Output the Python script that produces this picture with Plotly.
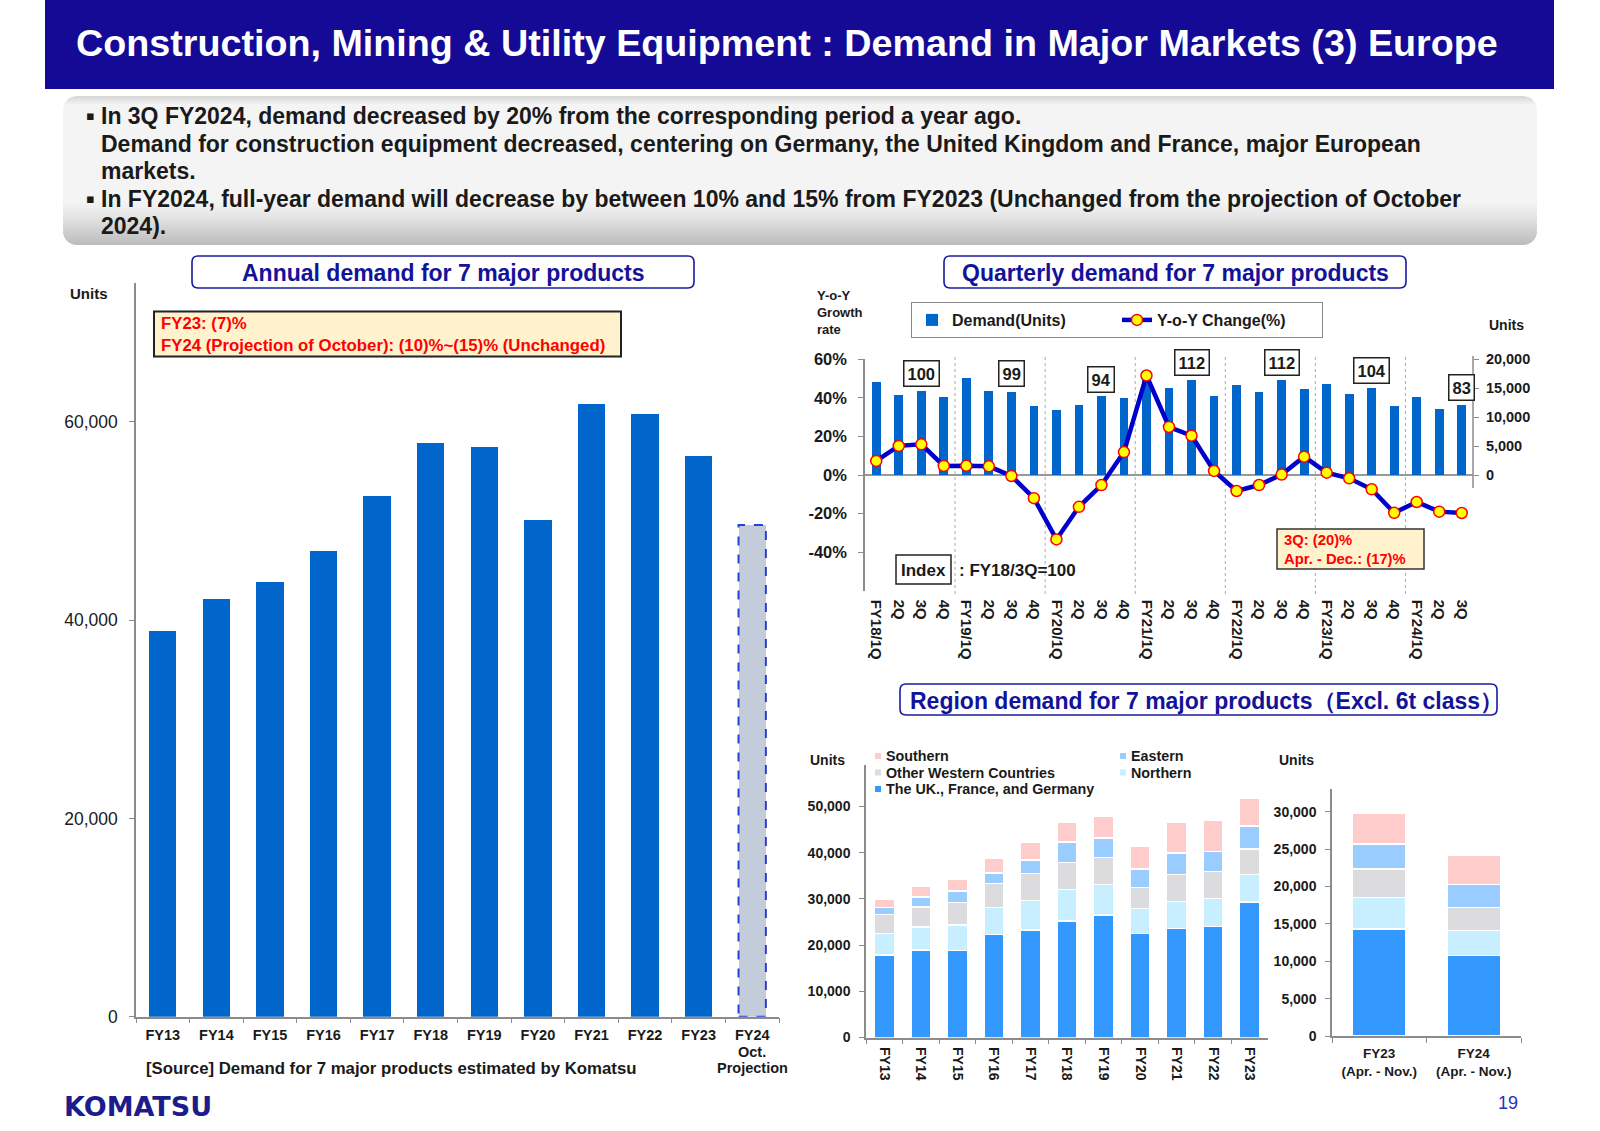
import math
import plotly.graph_objects as go

W, H = 1600, 1131
FONT = "Arial, Liberation Sans, sans-serif"
DARK = "#1a1a1a"
AXIS = "#8c8c8c"
NAVY = "#12129a"

# ---------------- data ----------------
annual_years = ["FY13", "FY14", "FY15", "FY16", "FY17", "FY18", "FY19", "FY20",
                "FY21", "FY22", "FY23", "FY24"]
annual_ticktext = ["FY13", "FY14", "FY15", "FY16", "FY17", "FY18", "FY19", "FY20",
                   "FY21", "FY22", "FY23", "FY24"]
annual_demand = [38900, 42100, 43800, 47000, 52500, 57900, 57500, 50100,
                 61800, 60800, 56600, 49600]
projection_note = ["Oct.", "Projection"]

quarter_labels = ["FY18/1Q", "2Q", "3Q", "4Q", "FY19/1Q", "2Q", "3Q", "4Q",
                  "FY20/1Q", "2Q", "3Q", "4Q", "FY21/1Q", "2Q", "3Q", "4Q",
                  "FY22/1Q", "2Q", "3Q", "4Q", "FY23/1Q", "2Q", "3Q", "4Q",
                  "FY24/1Q", "2Q", "3Q"]
quarterly_demand = [16050, 13830, 14530, 13480, 16800, 14470, 14350, 11850,
                    11200, 12080, 13600, 13250, 16950, 15100, 16400, 13600,
                    15520, 14300, 16400, 14820, 15700, 14050, 15100, 11850,
                    13530, 11380, 12080]
yoy_change = [7.3, 15.1, 15.9, 4.7, 4.8, 4.5, -0.5, -12.0,
              -33.4, -16.5, -5.2, 11.9, 51.6, 24.9, 20.4, 2.1,
              -8.3, -5.2, 0.2, 9.5, 1.2, -1.7, -7.4, -19.6,
              -14.0, -19.0, -19.7]
index_values = [100, 99, 94, 112, 112, 104, 83]        # 3Q index, FY18/3Q = 100
index_quarter = [2, 6, 10, 14, 18, 22, 26]             # position of each year's 3Q

region_years = ["FY13", "FY14", "FY15", "FY16", "FY17", "FY18", "FY19", "FY20",
                "FY21", "FY22", "FY23"]
uk_fr_de = [17860, 19000, 18870, 22340, 23330, 25220, 26520, 22550, 23550, 23980, 29390]
northern = [4690, 4910, 5480, 5760, 6280, 6860, 6640, 5410, 5930, 6150, 5930]
other_western = [4110, 4390, 4910, 5280, 5930, 5840, 5840, 4550, 5840, 5760, 5540]
eastern = [1520, 2160, 2510, 2290, 2880, 4460, 4240, 3960, 4610, 4420, 4910]
southern = [1860, 2380, 2600, 3180, 3830, 4330, 4630, 4980, 6780, 6780, 6130]

ytd_periods = ["FY23<br>(Apr. - Nov.)", "FY24<br>(Apr. - Nov.)"]
ytd_uk_fr_de = [14300, 10790]
ytd_northern = [4240, 3340]
ytd_other_western = [3780, 3075]
ytd_eastern = [3340, 3075]
ytd_southern = [4150, 3920]

# ---------------- layout helpers (pixel -> paper) ----------------
def X(px):
    return px / W


def Y(py):
    return 1 - py / H


# label positions (layout only, in % of the growth axis)
index_label_y = [52.7, 52.4, 49.6, 58.2, 58.2, 54.4, 45.4]


def rounded_path(x0, y0, x1, y1, r):
    def P(x, y):
        return f"{X(x):.5f},{Y(y):.5f}"
    return (f"M{P(x0 + r, y0)} L{P(x1 - r, y0)} Q{P(x1, y0)} {P(x1, y0 + r)} "
            f"L{P(x1, y1 - r)} Q{P(x1, y1)} {P(x1 - r, y1)} L{P(x0 + r, y1)} "
            f"Q{P(x0, y1)} {P(x0, y1 - r)} L{P(x0, y0 + r)} Q{P(x0, y0)} {P(x0 + r, y0)} Z")


def band_path(x0, y0, x1, y1, r, ya, yb):
    def xl(y):
        if y < y0 + r:
            d = y0 + r - y
        elif y > y1 - r:
            d = y - (y1 - r)
        else:
            return x0
        return x0 + r - math.sqrt(max(r * r - d * d, 0))
    ys = [ya] + [v for v in range(math.ceil(ya), math.floor(yb) + 1) if ya < v < yb] + [yb]
    pts = [(xl(y), y) for y in ys] + [(x0 + x1 - xl(y), y) for y in reversed(ys)]
    return "M" + " L".join(f"{X(x):.5f},{Y(y):.5f}" for x, y in pts) + " Z"


def gray_level(t):
    if t < 0.06:
        return 214 + (244 - 214) * (t / 0.06)
    if t < 0.70:
        return 244
    return 244 - (244 - 186) * ((t - 0.70) / 0.30) ** 1.3


def ann(text, px, py, size, bold=True, color=DARK, xanchor="center", yanchor="middle",
        family=FONT, **kw):
    f = dict(family=family, size=size, color=color)
    if bold:
        f["weight"] = "bold"
    return dict(text=text, xref="paper", yref="paper", x=X(px), y=Y(py), xanchor=xanchor,
                yanchor=yanchor, showarrow=False, font=f, **kw)


fig = go.Figure()

# ---------------- annual chart ----------------
fig.add_trace(go.Bar(
    x=annual_years[:-1], y=annual_demand[:-1], width=0.51,
    marker=dict(color="#0066cc", line=dict(width=0)),
    xaxis="x", yaxis="y", showlegend=False, hoverinfo="x+y"))
fig.add_trace(go.Bar(
    x=annual_years[-1:], y=annual_demand[-1:], width=0.51,
    marker=dict(color="#c3ccda", line=dict(width=0)),
    xaxis="x", yaxis="y", showlegend=False, hoverinfo="x+y"))

# ---------------- quarterly chart ----------------
qx = list(range(len(quarter_labels)))
fig.add_trace(go.Bar(
    x=qx, y=quarterly_demand, width=0.39, name="Demand(Units)",
    marker=dict(color="#0066cc", line=dict(width=0)),
    xaxis="x2", yaxis="y2", legend="legend"))
fig.add_trace(go.Scatter(
    x=qx, y=yoy_change, name="Y-o-Y Change(%)", mode="lines+markers",
    line=dict(color="#0000cc", width=4.5),
    marker=dict(size=11, color="#ffff00", line=dict(color="#ff0000", width=1.5)),
    xaxis="x2", yaxis="y3", legend="legend"))

# ---------------- region chart ----------------
regions = [
    ("The UK., France, and Germany", uk_fr_de, ytd_uk_fr_de, "#3399ff"),
    ("Northern", northern, ytd_northern, "#c7efff"),
    ("Other Western Countries", other_western, ytd_other_western, "#dcdcde"),
    ("Eastern", eastern, ytd_eastern, "#99ccff"),
    ("Southern", southern, ytd_southern, "#ffcccc"),
]
for name, vals, ytd, col in regions:
    fig.add_trace(go.Bar(
        x=region_years, y=vals, name=name, width=0.55, legendgroup=name, showlegend=False,
        marker=dict(color=col, line=dict(color="white", width=1.5)),
        xaxis="x4", yaxis="y4"))
    fig.add_trace(go.Bar(
        x=ytd_periods, y=ytd, name=name, width=0.57, legendgroup=name, showlegend=False,
        marker=dict(color=col, line=dict(color="white", width=1.5)),
        xaxis="x5", yaxis="y5"))

shapes = []
annotations = []

# header banner
shapes.append(dict(type="rect", xref="paper", yref="paper", x0=X(45), x1=X(1554),
                   y0=Y(89), y1=Y(0), fillcolor="#140a96", line=dict(width=0), layer="below"))
annotations.append(ann("Construction, Mining & Utility Equipment : Demand in Major Markets (3) Europe",
                       74, 43, 37.7, color="white", xanchor="left"))

# gray summary box with vertical gradient
bx0, by0, bx1, by1, br = 63, 96, 1537, 245, 14
step = 2.0
yy = by0
while yy < by1:
    yb = min(yy + step + 0.6, by1)
    t = (yy + step / 2 - by0) / (by1 - by0)
    g = int(round(gray_level(min(t, 1))))
    shapes.append(dict(type="path", xref="paper", yref="paper",
                       path=band_path(bx0, by0, bx1, by1, br, yy, yb),
                       fillcolor=f"rgb({g},{g},{g})", line=dict(width=0), layer="below"))
    yy += step

bullet_lines = [
    (True, "In 3Q FY2024, demand decreased by 20% from the corresponding period a year ago.", 116),
    (False, "Demand for construction equipment decreased, centering on Germany, the United Kingdom and France, major European", 143.5),
    (False, "markets.", 171),
    (True, "In FY2024, full-year demand will decrease by between 10% and 15% from FY2023 (Unchanged from the projection of October", 199),
    (False, "2024).", 226),
]
for has_bullet, txt, py in bullet_lines:
    if has_bullet:
        annotations.append(ann("▪", 84, py, 13, bold=False, family="DejaVu Sans", xanchor="left"))
    annotations.append(ann(txt, 99, py, 23, xanchor="left"))

# section title boxes
for (x0, y0, x1, y1, txt, dx) in [
        (192, 256, 694, 288, "Annual demand for 7 major products", 0),
        (944, 256, 1406, 288, "Quarterly demand for 7 major products", 0),
        (900, 684, 1497, 715, "Region demand for 7 major products（Excl. 6t class）", 8)]:
    shapes.append(dict(type="path", xref="paper", yref="paper", path=rounded_path(x0, y0, x1, y1, 6),
                       fillcolor="white", line=dict(color="#1a1aa0", width=1.6)))
    annotations.append(ann(txt, (x0 + x1) / 2 + dx, (y0 + y1) / 2 + 1, 23, color=NAVY))

# annual: red note box
shapes.append(dict(type="rect", xref="paper", yref="paper", x0=X(154), x1=X(621),
                   y0=Y(356.5), y1=Y(311.5), fillcolor="#fff2cc", line=dict(color="#222", width=2)))
annotations.append(ann("FY23: (7)%<br>FY24 (Projection of October): (10)%~(15)% (Unchanged)",
                       159, 334.5, 16.8, color="#ff0000", xanchor="left", align="left"))
# FY24 projection dashed outline (from the data value)
i24 = len(annual_years) - 1
shapes.append(dict(type="rect", xref="x", yref="y", x0=i24 - 0.255, x1=i24 + 0.255,
                   y0=0, y1=annual_demand[-1], line=dict(color="#2a3fd4", width=2, dash="dash")))
for line_txt, py in zip(projection_note, [1051.5, 1068]):
    annotations.append(ann(line_txt, 752, py, 14.5))
annotations.append(ann("Units", 89, 293, 15))
annotations.append(ann("[Source] Demand for 7 major products estimated by Komatsu", 144, 1068,
                       16.8, xanchor="left"))

# quarterly: separators, right axis line, labels
for b in [3.5, 7.5, 11.5, 15.5, 19.5, 23.5]:
    shapes.append(dict(type="line", xref="x2", yref="paper", x0=b, x1=b, y0=Y(594), y1=Y(354),
                       line=dict(color="#aaaaaa", width=1, dash="dot"), layer="below"))
shapes.append(dict(type="line", xref="paper", yref="paper", x0=X(1473), x1=X(1473),
                   y0=Y(488), y1=Y(356), line=dict(color=AXIS, width=1.5)))
for v, q, ly in zip(index_values, index_quarter, index_label_y):
    annotations.append(dict(text=str(v), xref="x2", yref="y3", x=q, y=ly, showarrow=False,
                            xanchor="center", yanchor="middle",
                            bgcolor="white", bordercolor="#222", borderwidth=1.5, borderpad=3,
                            font=dict(family=FONT, size=16.5, color=DARK, weight="bold")))
shapes.append(dict(type="rect", xref="paper", yref="paper", x0=X(896), x1=X(951),
                   y0=Y(584), y1=Y(555), fillcolor="white", line=dict(color="#222", width=1.5)))
annotations.append(ann("Index", 923.5, 570, 17))
annotations.append(ann(": FY18/3Q=100", 957, 570, 17, xanchor="left"))
shapes.append(dict(type="rect", xref="paper", yref="paper", x0=X(1277), x1=X(1424),
                   y0=Y(569), y1=Y(529), fillcolor="#fff2cc", line=dict(color="#333", width=1.5)))
annotations.append(ann("3Q: (20)%<br>Apr. - Dec.: (17)%", 1282, 549.5, 14.8, color="#ff0000",
                       xanchor="left", align="left"))
annotations.append(ann("Y-o-Y<br>Growth<br>rate", 815, 312, 13, xanchor="left", align="left"))
annotations.append(ann("Units", 1506, 325, 14))

# region: unit labels and legend (two columns, names/colours from the series list)
annotations.append(ann("Units", 828, 760, 14))
annotations.append(ann("Units", 1296, 760, 14))
region_style = {name: col for name, _, _, col in regions}
legend_layout = [("Southern", 0, 0), ("Other Western Countries", 0, 1),
                 ("The UK., France, and Germany", 0, 2), ("Eastern", 1, 0), ("Northern", 1, 1)]
col_sq_x = [875, 1120]
row_y = [756, 772.5, 789]
for name, c, r in legend_layout:
    sx, sy = col_sq_x[c], row_y[r]
    shapes.append(dict(type="rect", xref="paper", yref="paper", x0=X(sx), x1=X(sx + 6),
                       y0=Y(sy + 3), y1=Y(sy - 3), fillcolor=region_style[name],
                       line=dict(width=0)))
    annotations.append(ann(name, sx + 9, sy, 14.3, xanchor="left"))

# footer
annotations.append(ann("KOMATSU", 62, 1106, 27, family="DejaVu Sans", color="#1c1c8c",
                       xanchor="left"))
annotations.append(ann("19", 1508, 1103, 18, bold=False, color="#2233bb"))

axis_common = dict(showgrid=False, zeroline=False, linecolor=AXIS, linewidth=1.5,
                   tickcolor=AXIS, ticklen=5, automargin=False)

fig.update_layout(
    width=W, height=H, margin=dict(l=0, r=0, t=0, b=0, autoexpand=False),
    paper_bgcolor="white", plot_bgcolor="rgba(0,0,0,0)",
    barmode="stack", font=dict(family=FONT, color=DARK),
    xaxis=dict(domain=[X(136), X(779)], anchor="y", type="category",
               tickvals=annual_years, ticktext=annual_ticktext, range=[-0.5, 11.5],
               showline=True, ticks="outside", tickson="boundaries", tickangle=0,
               ticklabelstandoff=4,
               tickfont=dict(family=FONT, size=14.5, color=DARK, weight="bold"),
               **axis_common),
    yaxis=dict(domain=[Y(1016.7), Y(283)], anchor="x", range=[0, 74000],
               tickvals=[0, 20000, 40000, 60000], tickformat=",", showline=True,
               ticks="outside", ticklabelstandoff=8,
               tickfont=dict(family=FONT, size=17.5, color=DARK), **axis_common),
    xaxis2=dict(domain=[X(865), X(1473)], anchor="y2", range=[-0.5, 26.5],
                tickvals=qx, ticktext=quarter_labels, tickangle=90, showline=False,
                ticks="", ticklabelstandoff=8,
                tickfont=dict(family=FONT, size=15, color=DARK, weight="bold"),
                showgrid=False, zeroline=False, automargin=False),
    yaxis2=dict(domain=[Y(590.7), Y(359.3)], anchor="x2", side="right", range=[-20000, 20000],
                tickvals=[0, 5000, 10000, 15000, 20000], tickformat=",", showline=False,
                ticks="outside", ticklabelstandoff=4,
                tickfont=dict(family=FONT, size=14.5, color=DARK, weight="bold"), **axis_common),
    yaxis3=dict(overlaying="y2", anchor="x2", side="left", range=[-60, 60],
                tickvals=[-40, -20, 0, 20, 40, 60],
                ticktext=["-40%", "-20%", "0%", "20%", "40%", "60%"],
                showline=True, ticks="outside", ticklabelstandoff=8,
                tickfont=dict(family=FONT, size=16.5, color=DARK, weight="bold"),
                showgrid=False, zeroline=True, zerolinecolor="#999999", zerolinewidth=1.5,
                linecolor=AXIS, linewidth=1.5, tickcolor=AXIS, ticklen=5, automargin=False),
    xaxis4=dict(domain=[X(866), X(1268)], anchor="y4", type="category", tickangle=90,
                showline=True, ticks="outside", tickson="boundaries", ticklabelstandoff=5,
                tickfont=dict(family=FONT, size=14, color=DARK, weight="bold"),
                **axis_common),
    yaxis4=dict(domain=[Y(1037.5), Y(765)], anchor="x4", range=[0, 59000],
                tickvals=[0, 10000, 20000, 30000, 40000, 50000], tickformat=",",
                showline=True, ticks="outside", ticklabelstandoff=6,
                tickfont=dict(family=FONT, size=14, color=DARK, weight="bold"),
                **axis_common),
    xaxis5=dict(domain=[X(1332), X(1521)], anchor="y5", type="category", tickangle=0,
                showline=True, ticks="outside", tickson="boundaries", ticklabelstandoff=4,
                tickfont=dict(family=FONT, size=13.5, color=DARK, weight="bold"), **axis_common),
    yaxis5=dict(domain=[Y(1036), Y(789.2)], anchor="x5", range=[0, 33000],
                tickvals=[0, 5000, 10000, 15000, 20000, 25000, 30000], tickformat=",",
                showline=True, ticks="outside", ticklabelstandoff=6,
                tickfont=dict(family=FONT, size=14, color=DARK, weight="bold"),
                **axis_common),
    legend=dict(orientation="h", x=X(911), y=Y(302), xanchor="left", yanchor="top",
                traceorder="normal", bgcolor="white", bordercolor="#888888", borderwidth=1,
                entrywidth=160, entrywidthmode="pixels",
                font=dict(family=FONT, size=16, color=DARK, weight="bold")),
    shapes=shapes, annotations=annotations,
)

fig.write_html("out.html", config={"displayModeBar": False},
               post_script="document.body.style.margin='0';document.body.style.overflow='hidden';")
